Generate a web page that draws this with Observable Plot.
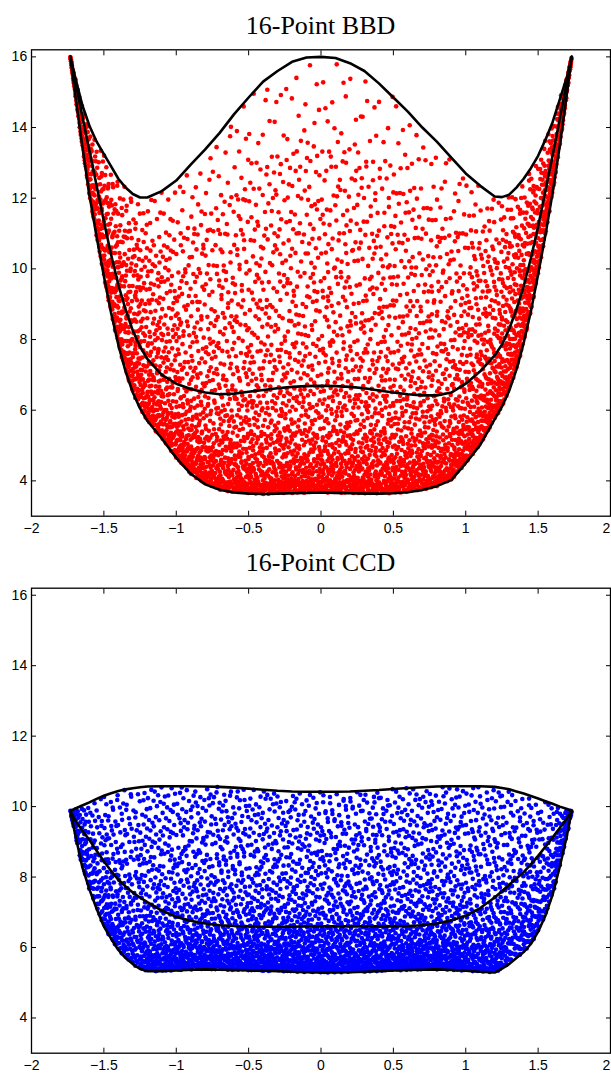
<!DOCTYPE html>
<html>
<head>
<meta charset="utf-8">
<script src="https://cdn.jsdelivr.net/npm/d3@7"></script>
<script src="https://cdn.jsdelivr.net/npm/@observablehq/plot@0.6"></script>
<style>
  body { margin: 0; background: #fff; }
  #fig { position: relative; width: 611px; height: 1073px; overflow: hidden; background: #fff; }
  .title {
    position: absolute; left: 31px; width: 579px; text-align: center;
    font-family: "Liberation Serif", "Times New Roman", serif; font-size: 26px; line-height: 26px;
    color: #000; white-space: nowrap;
  }
  .panel { position: absolute; left: 0; }
</style>
</head>
<body>
<div id="fig">
  <div class="title" style="top:13.2px">16-Point BBD</div>
  <div class="panel" id="bbd" style="top:45px"></div>
  <div class="title" style="top:549.9px">16-Point CCD</div>
  <div class="panel" id="ccd" style="top:584px"></div>
</div>
<script>
// Axis ticks
const xTicks = [-2, -1.5, -1, -0.5, 0, 0.5, 1, 1.5, 2];
const yTicks = [4, 6, 8, 10, 12, 14, 16];

// Radius positions (±) at which the envelope curves are sampled
const xGrid = [-1.732, -1.7, -1.65, -1.6, -1.55, -1.5, -1.45, -1.4, -1.35, -1.3, -1.25, -1.2,
  -1.1, -1.0, -0.9, -0.8, -0.7, -0.6, -0.5, -0.4, -0.3, -0.2, -0.1, 0,
  0.1, 0.2, 0.3, 0.4, 0.5, 0.6, 0.7, 0.8, 0.9, 1.0, 1.1,
  1.2, 1.25, 1.3, 1.35, 1.4, 1.45, 1.5, 1.55, 1.6, 1.65, 1.7, 1.732];

// 16-point Box-Behnken design: max, mean and min prediction variance
const bbdMax = [16.0, 15.45, 14.65, 14.05, 13.6, 13.25, 12.9, 12.55, 12.3, 12.12, 12.02, 12.02,
  12.2, 12.5, 12.95, 13.38, 13.85, 14.38, 14.85, 15.3, 15.6, 15.86, 15.98, 16.0,
  15.97, 15.82, 15.6, 15.25, 14.85, 14.45, 14.0, 13.6, 13.15, 12.7, 12.35,
  12.05, 12.03, 12.1, 12.3, 12.55, 12.85, 13.2, 13.65, 14.15, 14.8, 15.45, 16.0];
const bbdMid = [16.0, 15.35, 14.35, 13.35, 12.35, 11.35, 10.4, 9.55, 8.85, 8.25, 7.8, 7.45,
  7.0, 6.75, 6.6, 6.5, 6.45, 6.47, 6.52, 6.57, 6.62, 6.66, 6.68, 6.69,
  6.68, 6.66, 6.62, 6.56, 6.5, 6.45, 6.42, 6.42, 6.5, 6.75, 7.1,
  7.55, 7.85, 8.3, 8.85, 9.5, 10.3, 11.2, 12.2, 13.2, 14.25, 15.3, 16.0];
const bbdMin = [16.0, 15.0, 13.5, 12.1, 10.9, 9.8, 8.75, 7.85, 7.1, 6.5, 6.05, 5.7,
  5.2, 4.65, 4.2, 3.9, 3.75, 3.67, 3.64, 3.63, 3.64, 3.65, 3.66, 3.67,
  3.66, 3.65, 3.64, 3.64, 3.65, 3.68, 3.74, 3.85, 4.02, 4.5, 5.02,
  5.75, 6.1, 6.55, 7.15, 7.9, 8.8, 9.85, 10.95, 12.15, 13.5, 15.0, 16.0];

// 16-point central composite design: max, mean and min prediction variance
const ccdMax = [9.88, 9.94, 10.03, 10.12, 10.22, 10.31, 10.38, 10.44, 10.49, 10.52, 10.55, 10.57,
  10.58, 10.58, 10.58, 10.57, 10.56, 10.54, 10.51, 10.48, 10.45, 10.43, 10.42, 10.42,
  10.42, 10.43, 10.45, 10.47, 10.5, 10.53, 10.55, 10.57, 10.58, 10.58, 10.58,
  10.56, 10.53, 10.49, 10.43, 10.37, 10.3, 10.23, 10.15, 10.08, 10.0, 9.93, 9.88];
const ccdMid = [9.88, 9.62, 9.33, 9.05, 8.75, 8.45, 8.17, 7.93, 7.73, 7.56, 7.42, 7.29,
  7.05, 6.87, 6.76, 6.68, 6.63, 6.61, 6.6, 6.59, 6.59, 6.59, 6.6, 6.6,
  6.6, 6.6, 6.6, 6.6, 6.6, 6.61, 6.63, 6.68, 6.77, 6.9, 7.12,
  7.42, 7.6, 7.78, 7.96, 8.14, 8.36, 8.6, 8.86, 9.12, 9.4, 9.67, 9.88];
const ccdMin = [9.88, 9.25, 8.3, 7.65, 7.1, 6.6, 6.25, 5.93, 5.7, 5.53, 5.39, 5.33,
  5.33, 5.35, 5.37, 5.38, 5.37, 5.36, 5.35, 5.34, 5.33, 5.31, 5.3, 5.29,
  5.29, 5.3, 5.31, 5.33, 5.35, 5.36, 5.37, 5.38, 5.36, 5.34, 5.31,
  5.29, 5.4, 5.53, 5.7, 5.87, 6.1, 6.45, 6.9, 7.5, 8.3, 9.2, 9.88];

// Sample-point counts: rows are radius bins, columns are bands of relative
// height between the min (0) and max (1) curves
const binEdges = [-1.732, -1.5, -1.25, -1, -0.75, -0.5, -0.25, 0, 0.25, 0.5, 0.75, 1, 1.25, 1.5, 1.732];
const bandEdges = [0, 0.03, 0.08, 0.15, 0.25, 0.35, 0.5, 0.65, 0.8, 1];

const bbdCounts = [
  [20, 26, 30, 34, 30, 36, 30, 26, 20],
  [36, 40, 44, 46, 40, 46, 40, 34, 26],
  [50, 50, 50, 48, 38, 44, 36, 30, 20],
  [60, 56, 54, 50, 36, 42, 34, 28, 16],
  [66, 58, 55, 50, 36, 42, 34, 28, 15],
  [70, 60, 55, 50, 36, 42, 34, 27, 14],
  [70, 60, 55, 50, 36, 42, 34, 26, 13],
  [70, 60, 55, 50, 36, 42, 34, 26, 13],
  [70, 60, 55, 50, 36, 42, 34, 27, 14],
  [66, 58, 55, 50, 36, 42, 34, 28, 15],
  [60, 56, 54, 50, 36, 42, 34, 28, 16],
  [50, 50, 50, 48, 38, 44, 36, 30, 20],
  [36, 40, 44, 46, 40, 46, 40, 34, 26],
  [20, 26, 30, 34, 30, 36, 30, 26, 20]
];
const ccdCounts = [
  [12, 16, 20, 22, 20, 22, 18, 16, 16],
  [22, 28, 32, 36, 30, 34, 28, 26, 26],
  [34, 40, 42, 44, 32, 36, 30, 28, 30],
  [40, 45, 45, 45, 32, 36, 30, 28, 32],
  [40, 45, 45, 45, 32, 36, 30, 28, 32],
  [40, 45, 45, 46, 34, 36, 30, 28, 32],
  [40, 45, 46, 48, 34, 36, 30, 28, 32],
  [40, 45, 46, 48, 34, 36, 30, 28, 32],
  [40, 45, 45, 46, 34, 36, 30, 28, 32],
  [40, 45, 45, 45, 32, 36, 30, 28, 32],
  [40, 45, 45, 45, 32, 36, 30, 28, 32],
  [34, 40, 42, 44, 32, 36, 30, 28, 30],
  [22, 28, 32, 36, 30, 34, 28, 26, 26],
  [12, 16, 20, 22, 20, 22, 18, 16, 16]
];

// Piecewise-linear lookup along xGrid
const bisect = d3.bisector(d => d).right;
function curveAt(values, x) {
  const i = Math.min(xGrid.length - 1, Math.max(1, bisect(xGrid, x)));
  const x0 = xGrid[i - 1], x1 = xGrid[i];
  const f = (x - x0) / (x1 - x0);
  return values[i - 1] + f * (values[i] - values[i - 1]);
}

// Low-discrepancy placement of each cell's points inside its region
function radicalInverse(i, b) {
  let f = 1, r = 0;
  while (i > 0) { f /= b; r += f * (i % b); i = Math.floor(i / b); }
  return r;
}
function cloud(counts, lo, hi) {
  const pts = [];
  counts.forEach((row, bi) => {
    row.forEach((n, ti) => {
      const start = (bi * 9 + ti) * 97 + 7;
      for (let k = 0; k < n; k++) {
        const u = radicalInverse(start + k, 2), v = radicalInverse(start + k, 3);
        const x = binEdges[bi] + u * (binEdges[bi + 1] - binEdges[bi]);
        const t = bandEdges[ti] + v * (bandEdges[ti + 1] - bandEdges[ti]);
        const a = curveAt(lo, x), b = curveAt(hi, x);
        pts.push({x, y: a + t * (b - a)});
      }
    });
  });
  return pts;
}

const tickText = d => (d < 0 ? "\u2212" : "") + Math.abs(d);

function panel({minV, midV, maxV, counts, color, height, marginTop, marginBottom}) {
  const line = values => xGrid.map((x, i) => ({x, y: values[i]}));
  return Plot.plot({
    width: 611,
    height,
    marginLeft: 31,
    marginRight: 1,
    marginTop,
    marginBottom,
    style: {fontFamily: "'Liberation Sans', Arial, Helvetica, sans-serif", background: "transparent", overflow: "visible"},
    x: {domain: [-2, 2], label: null},
    y: {domain: [3, 16.2], label: null},
    marks: [
      Plot.dot(cloud(counts, minV, maxV), {x: "x", y: "y", r: 2.3, fill: color, stroke: "none"}),
      Plot.line(line(maxV), {x: "x", y: "y", stroke: "black", strokeWidth: 2.6, strokeLinejoin: "round"}),
      Plot.line(line(midV), {x: "x", y: "y", stroke: "black", strokeWidth: 2.6, strokeLinejoin: "round"}),
      Plot.line(line(minV), {x: "x", y: "y", stroke: "black", strokeWidth: 2.6, strokeLinejoin: "round"}),
      Plot.axisX(xTicks, {anchor: "bottom", tickSize: -5, tickFormat: () => "", label: null}),
      Plot.axisX(xTicks.slice(0, -1), {anchor: "bottom", tickSize: 0, tickPadding: 7.3, tickFormat: tickText, fontSize: 14, label: null}),
      Plot.axisX(xTicks.slice(-1), {anchor: "bottom", tickSize: 0, tickPadding: 7.3, tickFormat: tickText, fontSize: 14, dx: -4, label: null}),
      Plot.axisX(xTicks, {anchor: "top", tickSize: -5, tickFormat: () => "", label: null}),
      Plot.axisY(yTicks, {anchor: "left", tickSize: -5, tickPadding: 9.3, tickFormat: tickText, fontSize: 14, label: null}),
      Plot.axisY(yTicks, {anchor: "right", tickSize: -5, tickFormat: () => "", label: null}),
      Plot.frame({stroke: "black", strokeWidth: 1.3})
    ]
  });
}

document.getElementById("bbd").append(panel({
  minV: bbdMin, midV: bbdMid, maxV: bbdMax, counts: bbdCounts, color: "#ff0000",
  height: 500, marginTop: 4.3, marginBottom: 29.3
}));
document.getElementById("ccd").append(panel({
  minV: ccdMin, midV: ccdMid, maxV: ccdMax, counts: ccdCounts, color: "#0000ff",
  height: 489, marginTop: 3.7, marginBottom: 20.3
}));
</script>
</body>
</html>
